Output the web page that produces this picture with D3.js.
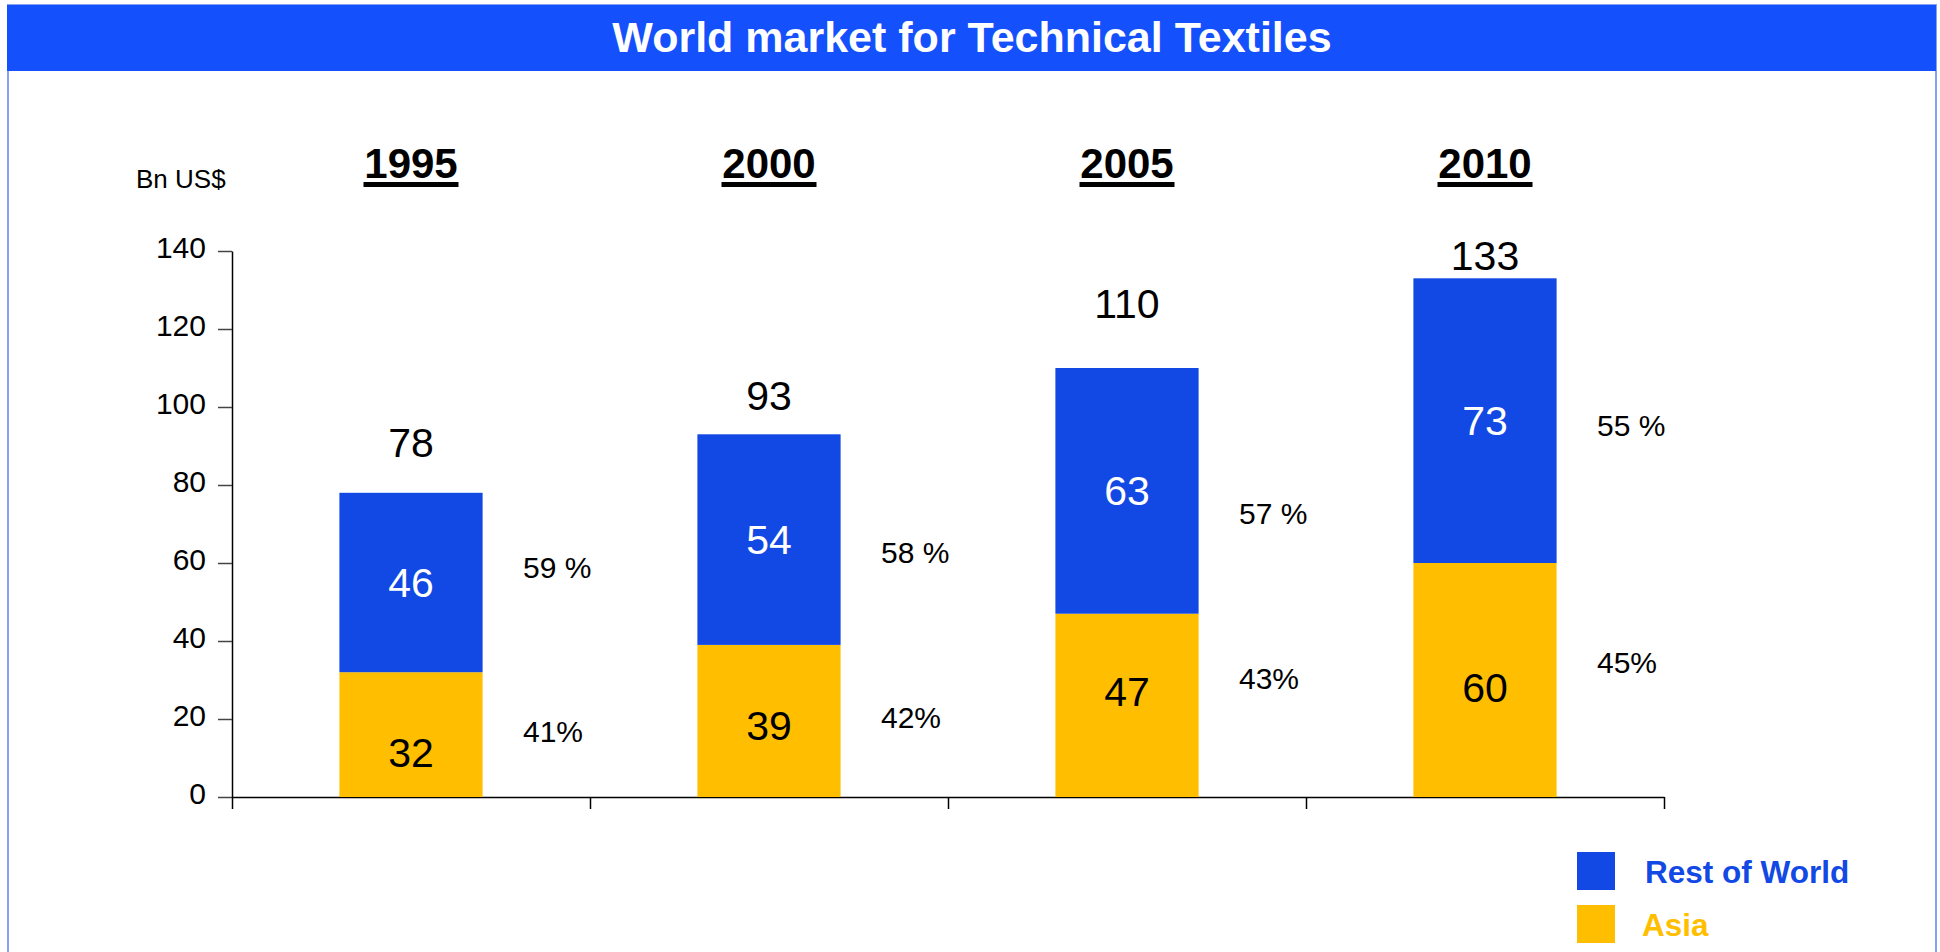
<!DOCTYPE html>
<html>
<head>
<meta charset="utf-8">
<script src="https://cdn.jsdelivr.net/npm/d3@7"></script>
<style>
  html, body { margin: 0; padding: 0; background: #ffffff; }
  svg { display: block; font-family: "Liberation Sans", Arial, Helvetica, sans-serif; }
</style>
</head>
<body>
<svg id="chart" width="1940" height="952"></svg>
<script>
// ---- data ----
const years = ["1995", "2000", "2005", "2010"];
const asia = [32, 39, 47, 60];
const restOfWorld = [46, 54, 63, 73];
const totals = [78, 93, 110, 133];
const asiaShare = ["41%", "42%", "43%", "45%"];
const restShare = ["59 %", "58 %", "57 %", "55 %"];
const yTicks = [0, 20, 40, 60, 80, 100, 120, 140];
const seriesNames = ["Rest of World", "Asia"];
// label anchor values (in Bn US$)
const totalLabelAt = [87.2, 99.2, 122.8, 135.1];
const asiaLabelAt = [11.3, 18.3, 26.9, 28.1];
const restPctAt = [56.2, 60.0, 70.0, 92.6];
const asiaPctAt = [14.1, 17.7, 27.7, 31.8];

// ---- styles ----
const BLUE = "#1248e3";
const YELLOW = "#ffbf00";
const BANNER = "#1450fb";
const FRAME = "#86a2f4";

const svg = d3.select("#chart");

// frame + banner
svg.append("rect").attr("x", 8).attr("y", 5).attr("width", 1928).attr("height", 960)
  .attr("fill", "#ffffff").attr("stroke", FRAME).attr("stroke-width", 2);
svg.append("rect").attr("x", 7).attr("y", 5).attr("width", 1929).attr("height", 66)
  .attr("fill", BANNER);
svg.append("text").attr("x", 972).attr("y", 52).attr("text-anchor", "middle")
  .attr("font-size", 43).attr("font-weight", "bold").attr("fill", "#ffffff")
  .text("World market for Technical Textiles");

// scales
const x = d3.scaleBand().domain(years).range([232, 1664]).padding(0);
const y = d3.scaleLinear().domain([0, 140]).range([797, 251]);
const barW = x.bandwidth() * 0.4;
const cx = d => x(d) + x.bandwidth() / 2;

// y axis
const yAxis = svg.append("g").attr("transform", "translate(232,0)")
  .call(d3.axisLeft(y).tickValues(yTicks).tickSize(14).tickSizeOuter(0).tickPadding(12));
yAxis.select(".domain").attr("stroke", "#000").attr("stroke-width", 1.5);
yAxis.selectAll(".tick line").attr("stroke", "#444").attr("stroke-width", 1.5);
yAxis.selectAll(".tick text").attr("font-size", 30).attr("fill", "#000")
  .attr("font-family", "Liberation Sans, Arial, sans-serif").attr("dy", "0.2em");

// x axis (ticks at category boundaries)
const xb = d3.scaleLinear().domain([0, years.length]).range([232, 1664]);
const xAxis = svg.append("g").attr("transform", "translate(0,797)")
  .call(d3.axisBottom(xb).ticks(years.length).tickSize(12).tickSizeOuter(0).tickFormat(""));
xAxis.select(".domain").attr("stroke", "#000").attr("stroke-width", 1.5);
xAxis.selectAll(".tick line").attr("stroke", "#000").attr("stroke-width", 1.5);

// unit label
svg.append("text").attr("x", 136).attr("y", 188).attr("font-size", 26).attr("fill", "#000").text("Bn US$");

// year headings
const yearG = svg.append("g").selectAll("g").data(years).join("g");
yearG.append("text").attr("x", d => cx(d)).attr("y", 178).attr("text-anchor", "middle")
  .attr("font-size", 42).attr("font-weight", "bold").attr("fill", "#000").text(d => d);
yearG.append("rect").attr("x", d => cx(d) - 47.5).attr("y", 182).attr("width", 95).attr("height", 5).attr("fill", "#000");

// stacked bars
const rows = years.map((yr, i) => ({ yr, i, asia: asia[i], rest: restOfWorld[i] }));
const g = svg.append("g");
g.selectAll("rect.asia").data(rows).join("rect").attr("class", "asia")
  .attr("x", d => cx(d.yr) - barW / 2).attr("width", barW)
  .attr("y", d => y(d.asia)).attr("height", d => y(0) - y(d.asia)).attr("fill", YELLOW);
g.selectAll("rect.rest").data(rows).join("rect").attr("class", "rest")
  .attr("x", d => cx(d.yr) - barW / 2).attr("width", barW)
  .attr("y", d => y(d.asia + d.rest)).attr("height", d => y(d.asia) - y(d.asia + d.rest)).attr("fill", BLUE);

// segment values
g.selectAll("text.restv").data(rows).join("text").attr("class", "restv")
  .attr("x", d => cx(d.yr)).attr("y", d => y(d.asia + d.rest / 2)).attr("dy", "0.35em")
  .attr("text-anchor", "middle").attr("font-size", 41).attr("fill", "#fff").text(d => d.rest);
g.selectAll("text.asiav").data(rows).join("text").attr("class", "asiav")
  .attr("x", d => cx(d.yr)).attr("y", d => y(asiaLabelAt[d.i])).attr("dy", "0.35em")
  .attr("text-anchor", "middle").attr("font-size", 41).attr("fill", "#000").text(d => d.asia);

// totals
g.selectAll("text.tot").data(rows).join("text").attr("class", "tot")
  .attr("x", d => cx(d.yr)).attr("y", d => y(totalLabelAt[d.i]))
  .attr("text-anchor", "middle").attr("font-size", 41).attr("fill", "#000").text(d => totals[d.i]);

// shares
g.selectAll("text.rpct").data(rows).join("text").attr("class", "rpct")
  .attr("x", d => cx(d.yr) + 112).attr("y", d => y(restPctAt[d.i]))
  .attr("font-size", 30).attr("fill", "#000").text(d => restShare[d.i]);
g.selectAll("text.apct").data(rows).join("text").attr("class", "apct")
  .attr("x", d => cx(d.yr) + 112).attr("y", d => y(asiaPctAt[d.i]))
  .attr("font-size", 30).attr("fill", "#000").text(d => asiaShare[d.i]);

// legend
const legColors = [BLUE, YELLOW];
const leg = svg.append("g").selectAll("g").data(seriesNames).join("g")
  .attr("transform", (d, i) => `translate(1577,${852 + i * 53})`);
leg.append("rect").attr("width", 38).attr("height", 38).attr("fill", (d, i) => legColors[i]);
leg.append("text").attr("x", (d, i) => i === 0 ? 68 : 65).attr("y", 31)
  .attr("font-size", 31.5).attr("font-weight", "bold").attr("fill", (d, i) => legColors[i]).text(d => d);
</script>
</body>
</html>
